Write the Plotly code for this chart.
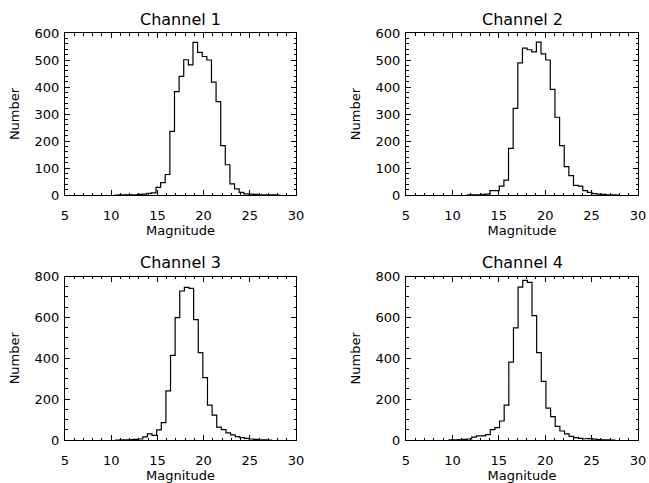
import numpy as np
import plotly.graph_objects as go

# ---- data ----
bin_width = 0.5
magnitude_ticks = [5, 10, 15, 20, 25, 30]
titles = ["Channel 1", "Channel 2", "Channel 3", "Channel 4"]

ch1_first_edge = 10.35
ch1_counts = [0, 1, 1, 1, 1, 2, 3, 6, 8, 28, 46, 76, 236, 383, 439, 501, 482,
              565, 528, 513, 500, 418, 346, 183, 112, 41, 23, 10, 4, 3, 2, 1,
              1, 1, 1, 0]

ch2_first_edge = 11.55
ch2_counts = [1, 1, 1, 2, 3, 16, 16, 33, 55, 173, 321, 489, 544, 538, 530,
              566, 523, 500, 391, 288, 183, 105, 72, 36, 33, 16, 10, 5, 3, 2,
              1, 1, 0]

ch3_first_edge = 10.42
ch3_counts = [0, 1, 1, 2, 3, 5, 15, 30, 23, 50, 85, 240, 414, 599, 729, 747,
              742, 589, 428, 305, 171, 122, 63, 51, 35, 25, 17, 12, 8, 5, 3,
              1, 1, 0]

ch4_first_edge = 9.58
ch4_counts = [1, 1, 2, 3, 5, 14, 20, 20, 26, 51, 61, 93, 171, 381, 549, 748,
              781, 771, 609, 428, 287, 156, 114, 67, 44, 30, 18, 12, 8, 6, 7,
              4, 2, 1, 1, 0]

y_ranges = [[0, 600], [0, 600], [0, 800], [0, 800]]
y_dticks = [100, 100, 200, 200]
y_minor = [20, 20, 50, 50]

first_edges = [ch1_first_edge, ch2_first_edge, ch3_first_edge, ch4_first_edge]
counts = [ch1_counts, ch2_counts, ch3_counts, ch4_counts]

# ---- layout geometry (the page body margin is removed by post_script) ----
W, H = 649, 483


def px_x(x):
    return x / W


def px_y(y):
    return (H - y) / H


x_domains = [[px_x(65), px_x(296)], [px_x(406), px_x(638)]]
y_domains = [[px_y(195), px_y(33)], [px_y(440), px_y(276.5)]]

FONT = "DejaVu Sans"

fig = go.Figure()
layout = dict(
    template="none",
    width=W, height=H, paper_bgcolor="white", plot_bgcolor="white",
    margin=dict(l=0, r=0, t=0, b=0, pad=0), showlegend=False,
    font=dict(family=FONT, size=13, color="black"),
)
annotations = []

for i in range(4):
    row, col = divmod(i, 2)
    n = i + 1
    xa = "x" if n == 1 else f"x{n}"
    ya = "y" if n == 1 else f"y{n}"
    c = counts[i]
    edges = first_edges[i] + bin_width * np.arange(len(c) + 1)
    yvals = list(c) + [c[-1]]
    fig.add_trace(go.Scatter(
        x=edges, y=yvals, mode="lines", line=dict(shape="hv", color="black", width=1.2),
        xaxis=xa, yaxis=ya, hoverinfo="skip"))

    common = dict(showgrid=False, zeroline=False, showline=True, linecolor="black",
                  linewidth=1, ticks="inside", mirror="ticks", tickcolor="black",
                  tickwidth=1, automargin=False, ticklabeloverflow="allow",
                  tickfont=dict(family=FONT, size=13, color="black"))
    layout["xaxis" if n == 1 else f"xaxis{n}"] = dict(
        common, domain=x_domains[col], anchor=ya, range=[5, 30],
        tickmode="array", tickvals=magnitude_ticks, ticklen=5,
        ticklabelstandoff=8,
        minor=dict(dtick=1, ticks="inside", ticklen=2.5, tickcolor="black", showgrid=False),
        title=dict(text="Magnitude", font=dict(family=FONT, size=13), standoff=2),
    )
    layout["yaxis" if n == 1 else f"yaxis{n}"] = dict(
        common, domain=y_domains[row], anchor=xa, range=y_ranges[i],
        dtick=y_dticks[i], tick0=0, ticklen=5, ticklabelstandoff=2,
        minor=dict(dtick=y_minor[i], ticks="inside", ticklen=2.5, tickcolor="black", showgrid=False),
        title=dict(text="Number", font=dict(family=FONT, size=13), standoff=12),
    )
    annotations.append(dict(
        text=titles[i], xref="paper", yref="paper",
        x=sum(x_domains[col]) / 2, y=y_domains[row][1] + 14 / H,
        xanchor="center", yanchor="middle", showarrow=False,
        font=dict(family=FONT, size=16, color="black")))

layout["annotations"] = annotations
fig.update_layout(**layout)
fig.write_html(
    "out.html",
    config={"displayModeBar": False},
    post_script="document.body.style.margin='0px';"
                "document.documentElement.style.overflow='hidden';",
)
